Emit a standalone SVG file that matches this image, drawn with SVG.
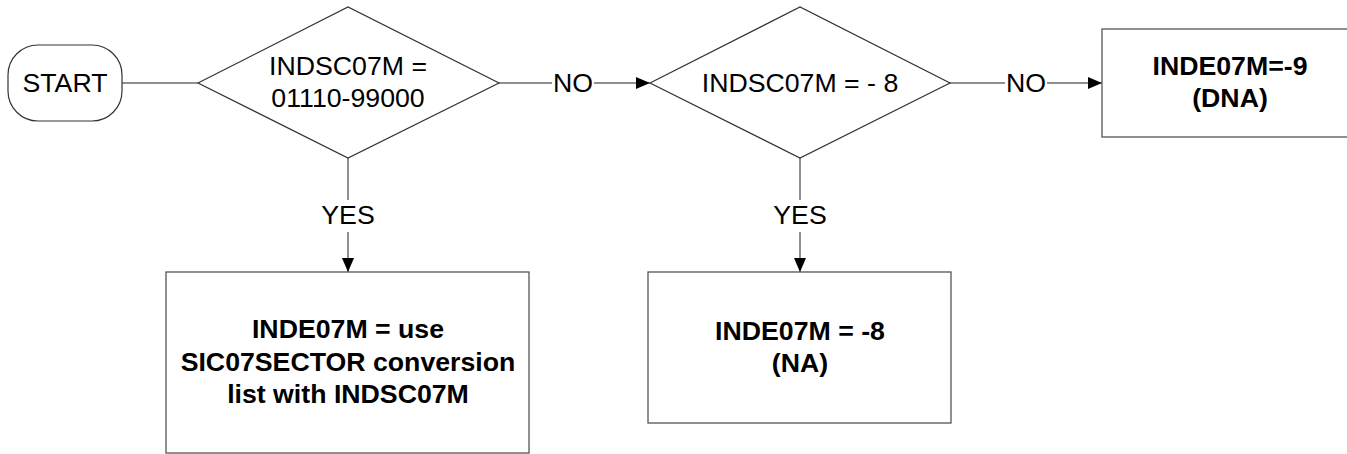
<svg xmlns="http://www.w3.org/2000/svg" width="1347" height="454" viewBox="0 0 1347 454">
<style>
.shape{fill:#fff;stroke:#333;stroke-width:1.2}
.box{fill:#fff;stroke:#555;stroke-width:1.3}
.t{font-family:"Liberation Sans",Arial,sans-serif;font-size:26.7px;fill:#000;text-anchor:middle}
.b{font-weight:bold}
.ln{fill:none;stroke:#222;stroke-width:1.2}
.lv{fill:none;stroke:#555;stroke-width:1.3}
.lbl{font-family:"Liberation Sans",Arial,sans-serif;font-size:26.7px;fill:#000;text-anchor:middle}
</style>
<defs>
<marker id="arr" markerWidth="14" markerHeight="12" refX="14" refY="6" orient="auto" markerUnits="userSpaceOnUse">
<path d="M0,0 L14,6 L0,12 Z" fill="#000"/>
</marker>
</defs>
<g id="connectors">
<line class="ln" x1="122" y1="83" x2="198" y2="83"/>
<line class="ln" x1="499" y1="83" x2="552" y2="83"/>
<line class="ln" x1="594" y1="83" x2="650" y2="83" marker-end="url(#arr)"/>
<text class="lbl" x="573" y="92">NO</text>
<line class="ln" x1="950" y1="83" x2="1005" y2="83"/>
<line class="ln" x1="1047" y1="83" x2="1102" y2="83" marker-end="url(#arr)"/>
<text class="lbl" x="1026" y="92">NO</text>
<line class="lv" x1="348" y1="158" x2="348" y2="200"/>
<line class="lv" x1="348" y1="232" x2="348" y2="272" marker-end="url(#arr)"/>
<text class="lbl" x="348" y="224">YES</text>
<line class="lv" x1="800" y1="158" x2="800" y2="200"/>
<line class="lv" x1="800" y1="232" x2="800" y2="272" marker-end="url(#arr)"/>
<text class="lbl" x="800" y="224">YES</text>
</g>
<g id="start">
<rect class="shape" x="8" y="45" width="114" height="76" rx="30" ry="30"/>
<text class="t" x="65" y="92">START</text>
</g>
<g id="decision1">
<polygon class="shape" points="198,83 348,7 499,83 348,158"/>
<text class="t" x="348" y="75">INDSC07M =</text>
<text class="t" x="348" y="107">01110-99000</text>
</g>
<g id="decision2">
<polygon class="shape" points="650,83 800,7 950,83 800,158"/>
<text class="t" x="800" y="92">INDSC07M = - 8</text>
</g>
<g id="dna">
<rect class="box" x="1102" y="29" width="260" height="108"/>
<text class="t b" x="1230" y="75">INDE07M=-9</text>
<text class="t b" x="1230" y="107">(DNA)</text>
</g>
<g id="convert">
<rect class="box" x="166" y="272" width="363" height="181"/>
<text class="t b" x="348" y="338">INDE07M = use</text>
<text class="t b" x="348" y="371">SIC07SECTOR conversion</text>
<text class="t b" x="348" y="403">list with INDSC07M</text>
</g>
<g id="na">
<rect class="box" x="648" y="272" width="303" height="151"/>
<text class="t b" x="800" y="340">INDE07M = -8</text>
<text class="t b" x="800" y="372">(NA)</text>
</g>
</svg>
